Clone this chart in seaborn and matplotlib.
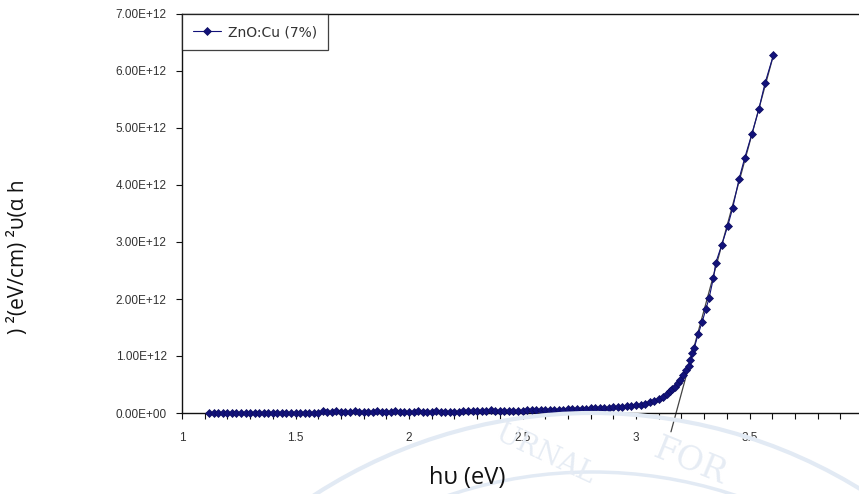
import numpy as np
import pandas as pd
import matplotlib
matplotlib.use("Agg")
import matplotlib.pyplot as plt
import matplotlib.ticker as mticker
from matplotlib.patches import Arc
import seaborn as sns

# ---------------- data ----------------
photon_energy_ev = [
    1.12, 1.14, 1.16, 1.18, 1.20, 1.22, 1.24, 1.26, 1.28, 1.30, 1.32, 1.34,
    1.36, 1.38, 1.40, 1.42, 1.44, 1.46, 1.48, 1.50, 1.52, 1.54, 1.56, 1.58,
    1.60, 1.62, 1.64, 1.66, 1.68, 1.70, 1.72, 1.74, 1.76, 1.78, 1.80, 1.82,
    1.84, 1.86, 1.88, 1.90, 1.92, 1.94, 1.96, 1.98,
    2.00, 2.02, 2.04, 2.06, 2.08, 2.10, 2.12, 2.14, 2.16, 2.18, 2.20, 2.22,
    2.24, 2.26, 2.28, 2.30, 2.32, 2.34, 2.36, 2.38, 2.40, 2.42, 2.44, 2.46, 2.48,
    2.50, 2.52, 2.54, 2.56, 2.58, 2.60, 2.62, 2.64, 2.66, 2.68, 2.70, 2.72,
    2.74, 2.76, 2.78, 2.80, 2.82, 2.84, 2.86, 2.88, 2.90, 2.92, 2.94, 2.96, 2.98,
    3.00, 3.02, 3.04, 3.06, 3.08, 3.10,
    3.12, 3.135, 3.15, 3.16, 3.172, 3.183, 3.194, 3.208, 3.22, 3.233, 3.24,
    3.248, 3.257, 3.274, 3.292, 3.308, 3.322, 3.341, 3.351, 3.378, 3.404,
    3.426, 3.454, 3.479, 3.511, 3.541, 3.568, 3.605,
]
# (alpha h nu)^2 in units of 1e12 (eV/cm)^2
alpha_hv_sq_e12 = [
    0.002, 0.003, 0.002, 0.004, 0.003, 0.004, 0.003, 0.005, 0.004, 0.005, 0.004, 0.006,
    0.005, 0.005, 0.006, 0.005, 0.007, 0.006, 0.006, 0.007, 0.006, 0.008, 0.007, 0.007,
    0.008, 0.030, 0.009, 0.012, 0.035, 0.010, 0.011, 0.013, 0.028, 0.012, 0.014, 0.013,
    0.015, 0.030, 0.014, 0.016, 0.015, 0.032, 0.017, 0.016,
    0.018, 0.020, 0.035, 0.019, 0.021, 0.022, 0.040, 0.023, 0.022, 0.024, 0.026, 0.025,
    0.042, 0.027, 0.028, 0.030, 0.029, 0.031, 0.045, 0.033, 0.034, 0.036, 0.035, 0.038, 0.040,
    0.042, 0.044, 0.046, 0.047, 0.049, 0.052, 0.054, 0.056, 0.058, 0.061, 0.064, 0.066,
    0.069, 0.072, 0.075, 0.079, 0.082, 0.086, 0.090, 0.094, 0.099, 0.104, 0.110, 0.116, 0.123,
    0.135, 0.148, 0.165, 0.185, 0.210, 0.240,
    0.286, 0.335, 0.387, 0.420, 0.462, 0.520, 0.580, 0.668, 0.750, 0.826, 0.930,
    1.049, 1.148, 1.383, 1.605, 1.822, 2.016, 2.367, 2.631, 2.953, 3.278,
    3.598, 4.107, 4.476, 4.903, 5.325, 5.782, 6.274,
]
# straight-line extrapolation (tangent) end points
tangent_x_ev = [3.154, 3.605]
tangent_y_e12 = [-0.33, 6.27]

series_label = "ZnO:Cu (7%)"
x_label = "hυ (eV)"
y_label = ") ²(eV/cm) ²υ(α h"
x_tick_values = [1, 1.5, 2, 2.5, 3, 3.5, 4]
x_tick_labels = ["1", "1.5", "2", "2.5", "3", "3.5", "4"]
y_tick_values_e12 = [0, 1, 2, 3, 4, 5, 6, 7]

SCALE = 1e12
df = pd.DataFrame({"x": photon_energy_ev,
                   "y": np.array(alpha_hv_sq_e12) * SCALE})
df_fit = pd.DataFrame({"x": tangent_x_ev,
                       "y": np.array(tangent_y_e12) * SCALE})

# ---------------- figure ----------------
sns.set_style("white")
plt.rcParams["font.family"] = ["Liberation Sans", "DejaVu Sans"]

W, H = 859, 494
fig = plt.figure(figsize=(W / 100, H / 100), dpi=100)

ymin, ymax = -0.5e12, 7e12
left_px, top_px = 182, 14
zero_px = 413
px_per_unit_y = (zero_px - top_px) / 7.0
bottom_px = zero_px + 0.5 * px_per_unit_y
right_px = 182 + 3 * 227
ax = fig.add_axes([left_px / W, 1 - bottom_px / H,
                   (right_px - left_px) / W, (bottom_px - top_px) / H])
ax.patch.set_alpha(0)

# faint watermark seal (background)
for r, lw in [(511, 3.0), (452, 2.5)]:
    arc = Arc((592, H - 924), 2 * r, 2 * r, theta1=20, theta2=160,
              transform=None, color="#e2eaf4", lw=lw, zorder=0)
    fig.patches.append(arc)
fig.text(545 / W, 1 - 455 / H, "URNAL", fontsize=20, color="#e6ecf4",
         rotation=-25, family="DejaVu Serif", ha="center", va="center", zorder=0)
fig.text(690 / W, 1 - 462 / H, "FOR", fontsize=24, color="#e6ecf4",
         rotation=-22, family="DejaVu Serif", ha="center", va="center", zorder=0)

sns.lineplot(data=df_fit, x="x", y="y", ax=ax, color="#444444", lw=0.9,
             sort=False, legend=False, zorder=2)
sns.lineplot(data=df, x="x", y="y", ax=ax, color="#12127a", lw=0.8,
             marker="D", markersize=4, markeredgewidth=0.5,
             markeredgecolor="#0b0b5e", sort=False, label=series_label, zorder=3)

ax.set_xlim(1, 4)
ax.set_ylim(ymin, ymax)

# spines
ax.spines["right"].set_visible(False)
ax.spines["top"].set_visible(True)
ax.spines["left"].set_bounds(0, 7e12)
ax.spines["bottom"].set_position(("data", 0))
for s in ["left", "top", "bottom"]:
    ax.spines[s].set_color("#111111")
    ax.spines[s].set_linewidth(1.0)

ax.set_xticks(x_tick_values)
ax.set_xticklabels(x_tick_labels)
ax.xaxis.set_minor_locator(mticker.MultipleLocator(0.1))
ax.set_yticks([v * SCALE for v in y_tick_values_e12])
ax.yaxis.set_major_formatter(mticker.FuncFormatter(lambda v, p: f"{v:.2E}"))
ax.tick_params(axis="x", which="both", direction="out", length=4, width=0.8,
               color="#111111", bottom=True, labelsize=8.5, labelcolor="#333333", pad=10)
ax.tick_params(axis="y", which="major", direction="out", length=4, width=0.8,
               color="#111111", left=True, labelsize=8.5, labelcolor="#333333", pad=7)

ax.set_xlabel("")
ax.set_ylabel("")
fig.text(467 / W, 1 - 478 / H, x_label, fontsize=17, ha="center", va="center",
         family=["Open Sans", "DejaVu Sans"], color="#111111")
fig.text(19 / W, 1 - 257 / H, y_label, fontsize=15, ha="center", va="center",
         rotation=90, family=["Open Sans", "DejaVu Sans"], color="#111111")

leg = ax.legend(loc="upper left", bbox_to_anchor=(0.0, 1.0), frameon=True,
                fancybox=False, fontsize=10, handlelength=2.0, borderpad=0.8,
                borderaxespad=0.0, handletextpad=0.5)
leg.get_frame().set_edgecolor("#111111")
leg.get_frame().set_linewidth(0.9)
for t in leg.get_texts():
    t.set_color("#333333")
    t.set_family(["DejaVu Sans"])

fig.savefig("out.png", dpi=100)
